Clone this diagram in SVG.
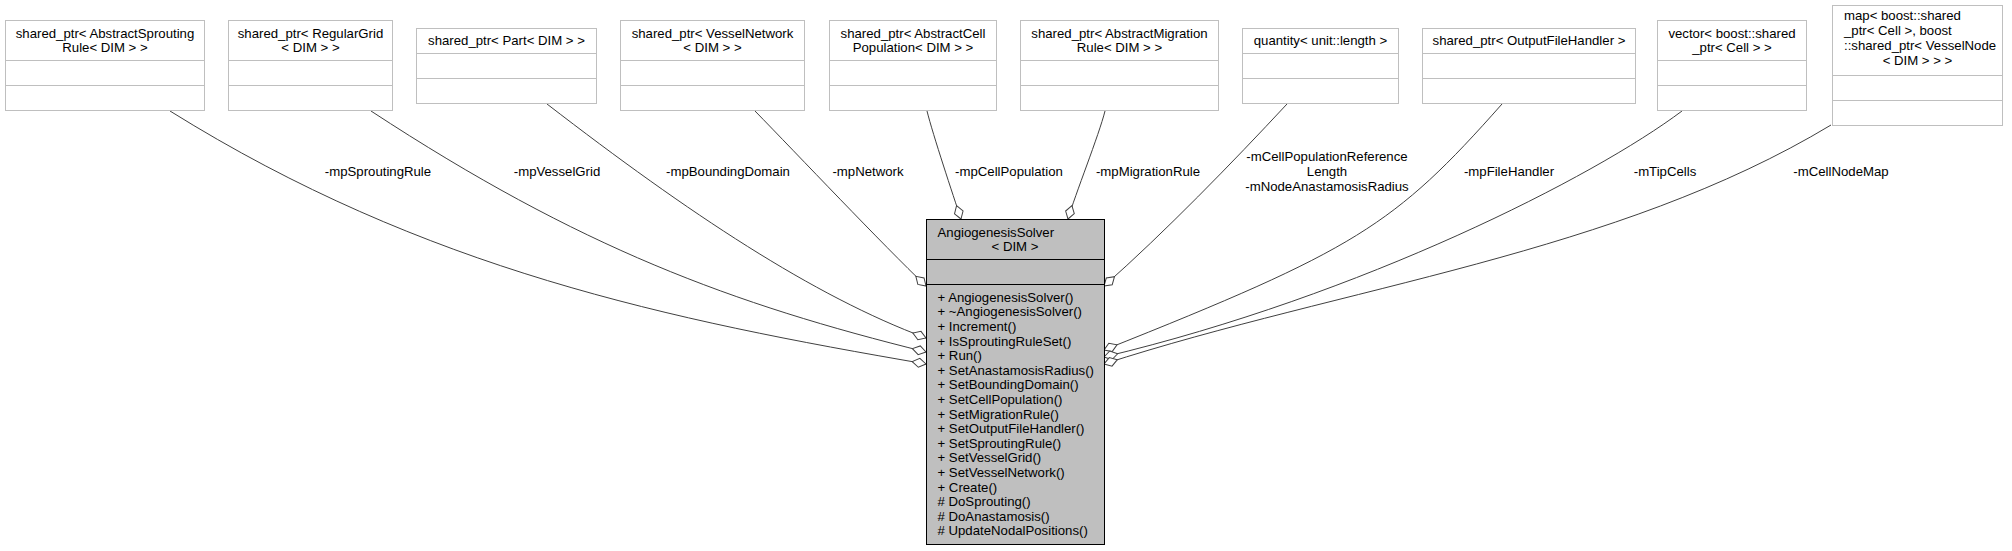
<svg xmlns="http://www.w3.org/2000/svg" width="2012" height="551" viewBox="0 0 2012 551">
<style>
text{font-family:"Liberation Sans",Arial,Helvetica,sans-serif;font-size:13.2px;fill:#000}
.c{text-anchor:middle}
.box{fill:#fff;stroke:#bfbfbf;stroke-width:1}
.div{stroke:#bfbfbf;stroke-width:1}
.main{fill:#bfbfbf;stroke:#000;stroke-width:1}
.mdiv{stroke:#000;stroke-width:1}
.edge{fill:none;stroke:#404040;stroke-width:1;marker-end:url(#od)}
</style>
<defs>
<marker id="od" markerUnits="userSpaceOnUse" viewBox="-15 -6 16 12" refX="0" refY="0" markerWidth="16" markerHeight="12" orient="auto">
<path d="M0,0 L-7,-4.5 L-14,0 L-7,4.5 Z" fill="#fff" stroke="#404040" stroke-width="1"/>
</marker>
</defs>
<rect width="2012" height="551" fill="#fff"/>

<g id="connectors">
<path class="edge" d="M170,111 C425,270 670,320 926,364"/>
<path class="edge" d="M371,111 C580,248 732,304 926,352"/>
<path class="edge" d="M547,104 C689,213.5 813,296 926,338"/>
<path class="edge" d="M755,111 C797,154 883,245 926,286"/>
<path class="edge" d="M927,111 C933,135 953,195 961,219"/>
<path class="edge" d="M1105,111 C1099,135 1075,195 1068,219"/>
<path class="edge" d="M1287,104 C1233,162 1164,233 1104,286"/>
<path class="edge" d="M1502,104 C1394,226 1355,250 1104,350"/>
<path class="edge" d="M1682,111 C1594,177 1363,295 1104,357"/>
<path class="edge" d="M1831,125 C1617,254 1342,287 1104,364"/>
<text class="c" x="378" y="176">-mpSproutingRule</text>
<text class="c" x="557" y="176">-mpVesselGrid</text>
<text class="c" x="728" y="176">-mpBoundingDomain</text>
<text class="c" x="868" y="176">-mpNetwork</text>
<text class="c" x="1009" y="176">-mpCellPopulation</text>
<text class="c" x="1148" y="176">-mpMigrationRule</text>
<text class="c" x="1327" y="161">-mCellPopulationReference</text>
<text class="c" x="1327" y="176">Length</text>
<text class="c" x="1327" y="191">-mNodeAnastamosisRadius</text>
<text class="c" x="1509" y="176">-mpFileHandler</text>
<text class="c" x="1665" y="176">-mTipCells</text>
<text class="c" x="1841" y="176">-mCellNodeMap</text>
</g>

<g id="n1">
<rect class="box" x="5.5" y="20.5" width="199" height="90"/>
<line class="div" x1="5.5" y1="60.5" x2="204.5" y2="60.5"/>
<line class="div" x1="5.5" y1="85.5" x2="204.5" y2="85.5"/>
<text class="c" x="105" y="37.5">shared_ptr&lt; AbstractSprouting</text>
<text class="c" x="105" y="52">Rule&lt; DIM &gt; &gt;</text>
</g>
<g id="n2">
<rect class="box" x="228.5" y="20.5" width="164" height="90"/>
<line class="div" x1="228.5" y1="60.5" x2="392.5" y2="60.5"/>
<line class="div" x1="228.5" y1="85.5" x2="392.5" y2="85.5"/>
<text class="c" x="310.5" y="37.5">shared_ptr&lt; RegularGrid</text>
<text class="c" x="310.5" y="52">&lt; DIM &gt; &gt;</text>
</g>
<g id="n3">
<rect class="box" x="416.5" y="28.5" width="180" height="75"/>
<line class="div" x1="416.5" y1="53.5" x2="596.5" y2="53.5"/>
<line class="div" x1="416.5" y1="78.5" x2="596.5" y2="78.5"/>
<text class="c" x="506.5" y="44.5">shared_ptr&lt; Part&lt; DIM &gt; &gt;</text>
</g>
<g id="n4">
<rect class="box" x="620.5" y="20.5" width="184" height="90"/>
<line class="div" x1="620.5" y1="60.5" x2="804.5" y2="60.5"/>
<line class="div" x1="620.5" y1="85.5" x2="804.5" y2="85.5"/>
<text class="c" x="712.5" y="37.5">shared_ptr&lt; VesselNetwork</text>
<text class="c" x="712.5" y="52">&lt; DIM &gt; &gt;</text>
</g>
<g id="n5">
<rect class="box" x="829.5" y="20.5" width="167" height="90"/>
<line class="div" x1="829.5" y1="60.5" x2="996.5" y2="60.5"/>
<line class="div" x1="829.5" y1="85.5" x2="996.5" y2="85.5"/>
<text class="c" x="913" y="37.5">shared_ptr&lt; AbstractCell</text>
<text class="c" x="913" y="52">Population&lt; DIM &gt; &gt;</text>
</g>
<g id="n6">
<rect class="box" x="1020.5" y="20.5" width="198" height="90"/>
<line class="div" x1="1020.5" y1="60.5" x2="1218.5" y2="60.5"/>
<line class="div" x1="1020.5" y1="85.5" x2="1218.5" y2="85.5"/>
<text class="c" x="1119.5" y="37.5">shared_ptr&lt; AbstractMigration</text>
<text class="c" x="1119.5" y="52">Rule&lt; DIM &gt; &gt;</text>
</g>
<g id="n7">
<rect class="box" x="1242.5" y="28.5" width="156" height="75"/>
<line class="div" x1="1242.5" y1="53.5" x2="1398.5" y2="53.5"/>
<line class="div" x1="1242.5" y1="78.5" x2="1398.5" y2="78.5"/>
<text class="c" x="1320.5" y="44.5">quantity&lt; unit::length &gt;</text>
</g>
<g id="n8">
<rect class="box" x="1422.5" y="28.5" width="213" height="75"/>
<line class="div" x1="1422.5" y1="53.5" x2="1635.5" y2="53.5"/>
<line class="div" x1="1422.5" y1="78.5" x2="1635.5" y2="78.5"/>
<text class="c" x="1529" y="44.5">shared_ptr&lt; OutputFileHandler &gt;</text>
</g>
<g id="n9">
<rect class="box" x="1657.5" y="20.5" width="149" height="90"/>
<line class="div" x1="1657.5" y1="60.5" x2="1806.5" y2="60.5"/>
<line class="div" x1="1657.5" y1="85.5" x2="1806.5" y2="85.5"/>
<text class="c" x="1732" y="37.5">vector&lt; boost::shared</text>
<text class="c" x="1732" y="52">_ptr&lt; Cell &gt; &gt;</text>
</g>
<g id="n10">
<rect class="box" x="1832.5" y="5.5" width="170" height="120"/>
<line class="div" x1="1832.5" y1="75.5" x2="2002.5" y2="75.5"/>
<line class="div" x1="1832.5" y1="100.5" x2="2002.5" y2="100.5"/>
<text x="1844" y="20">map&lt; boost::shared</text>
<text x="1844" y="35">_ptr&lt; Cell &gt;, boost</text>
<text x="1844" y="50">::shared_ptr&lt; VesselNode</text>
<text class="c" x="1917.5" y="65">&lt; DIM &gt; &gt; &gt;</text>
</g>

<g id="main">
<rect class="main" x="926.5" y="219.5" width="178" height="325"/>
<line class="mdiv" x1="926.5" y1="259.5" x2="1104.5" y2="259.5"/>
<line class="mdiv" x1="926.5" y1="284.5" x2="1104.5" y2="284.5"/>
<text x="937.5" y="236.5">AngiogenesisSolver</text>
<text class="c" x="1015" y="250.5">&lt; DIM &gt;</text>
<text x="937.5" y="301.7">+ AngiogenesisSolver()</text>
<text x="937.5" y="316.3">+ ~AngiogenesisSolver()</text>
<text x="937.5" y="330.9">+ Increment()</text>
<text x="937.5" y="345.5">+ IsSproutingRuleSet()</text>
<text x="937.5" y="360.1">+ Run()</text>
<text x="937.5" y="374.7">+ SetAnastamosisRadius()</text>
<text x="937.5" y="389.3">+ SetBoundingDomain()</text>
<text x="937.5" y="403.9">+ SetCellPopulation()</text>
<text x="937.5" y="418.5">+ SetMigrationRule()</text>
<text x="937.5" y="433.1">+ SetOutputFileHandler()</text>
<text x="937.5" y="447.7">+ SetSproutingRule()</text>
<text x="937.5" y="462.3">+ SetVesselGrid()</text>
<text x="937.5" y="476.9">+ SetVesselNetwork()</text>
<text x="937.5" y="491.5">+ Create()</text>
<text x="937.5" y="506.1"># DoSprouting()</text>
<text x="937.5" y="520.7"># DoAnastamosis()</text>
<text x="937.5" y="535.3"># UpdateNodalPositions()</text>
</g>
</svg>
